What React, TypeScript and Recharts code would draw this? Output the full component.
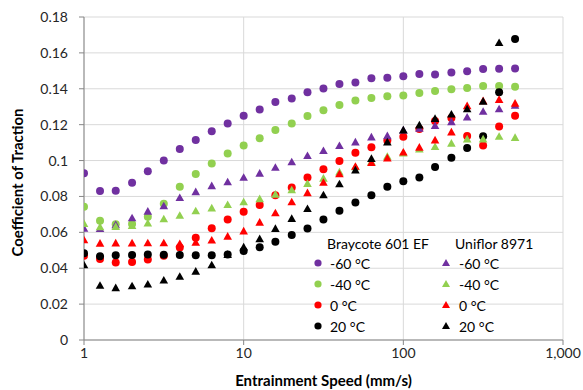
import {
  CartesianGrid,
  Scatter,
  ScatterChart,
  XAxis,
  YAxis,
} from 'recharts'

// entrainment speeds (mm/s), same for every run
const speeds = [
  1, 1.26, 1.58, 2, 2.51, 3.16, 3.98, 5.01, 6.31, 7.94, 10, 12.6, 15.8, 20,
  25.1, 31.6, 39.8, 50.1, 63.1, 79.4, 100, 126, 158, 200, 251, 316, 398, 501,
]

// Braycote 601 EF
const braycoteM60 = [
  0.0929, 0.083, 0.0832, 0.0876, 0.094, 0.1001, 0.1064, 0.1114, 0.1163, 0.1207,
  0.125, 0.1285, 0.1326, 0.1346, 0.138, 0.1402, 0.1426, 0.1435, 0.1458, 0.1461,
  0.147, 0.1482, 0.148, 0.1491, 0.1498, 0.151, 0.1511, 0.1513,
]
const braycoteM40 = [
  0.0742, 0.0665, 0.0645, 0.0646, 0.0687, 0.0759, 0.0854, 0.0925, 0.0984, 0.104,
  0.1084, 0.1125, 0.117, 0.1207, 0.1248, 0.1281, 0.1309, 0.1335, 0.1348, 0.1359,
  0.1363, 0.1376, 0.1387, 0.1398, 0.1404, 0.1415, 0.1415, 0.1411,
]
const braycote0 = [
  0.047, 0.0451, 0.0432, 0.0435, 0.0449, 0.047, 0.0516, 0.057, 0.0623, 0.0672,
  0.0715, 0.0753, 0.0807, 0.085, 0.0905, 0.0951, 0.0997, 0.1043, 0.1074, 0.1112,
  0.1132, 0.1176, 0.1221, 0.1237, 0.1137, 0.1084, 0.119, 0.1249,
]
const braycote20 = [
  0.0483, 0.0467, 0.0472, 0.0474, 0.0476, 0.0475, 0.0473, 0.0472, 0.0472, 0.0477,
  0.0496, 0.0517, 0.0547, 0.0585, 0.0622, 0.0672, 0.072, 0.0766, 0.0806, 0.0854,
  0.0884, 0.0906, 0.0964, 0.1016, 0.107, 0.1136, 0.1381, 0.1678,
]

// Uniflor 8971
const uniflorM60 = [
  0.062, 0.0618, 0.064, 0.0678, 0.0715, 0.0745, 0.0791, 0.0824, 0.0857, 0.0879,
  0.0904, 0.0927, 0.096, 0.099, 0.1025, 0.1053, 0.1081, 0.1101, 0.1129, 0.1136,
  0.1168, 0.1177, 0.1192, 0.1214, 0.124, 0.1272, 0.1286, 0.1305,
]
const uniflorM40 = [
  0.0647, 0.0628, 0.063, 0.0635, 0.0649, 0.0673, 0.0692, 0.0717, 0.0733, 0.0752,
  0.0767, 0.0785, 0.081, 0.0834, 0.087, 0.0899, 0.0934, 0.0962, 0.0991, 0.1021,
  0.104, 0.1062, 0.1075, 0.1094, 0.1118, 0.1118, 0.1132, 0.1126,
]
const uniflor0 = [
  0.0556, 0.0537, 0.0538, 0.0538, 0.0539, 0.0539, 0.0535, 0.0542, 0.0554, 0.0576,
  0.0605, 0.0654, 0.0706, 0.0767, 0.0818, 0.0876, 0.0923, 0.0965, 0.0986, 0.1012,
  0.1045, 0.1072, 0.1112, 0.1157, 0.1303, 0.1331, 0.1338, 0.1317,
]
const uniflor20 = [
  0.0416, 0.0302, 0.0289, 0.0299, 0.0309, 0.0331, 0.0352, 0.0381, 0.0416, 0.0474,
  0.0516, 0.0562, 0.0619, 0.0675, 0.073, 0.0806, 0.0868, 0.0945, 0.1009, 0.1101,
  0.1168, 0.1196, 0.1232, 0.1256, 0.1286, 0.1328, 0.1655, null,
]

const tempLabels = ['-60 °C', '-40 °C', '0 °C', '20 °C']
const tempColors = ['#7030A0', '#92D050', '#FF0000', '#000000']
const xTicks = [1, 10, 100, 1000]
const yTicks = [0, 0.02, 0.04, 0.06, 0.08, 0.1, 0.12, 0.14, 0.16, 0.18]

const FONT = 'Lato, "Liberation Sans", Arial, sans-serif'

const toPoints = (values: (number | null)[]) =>
  speeds
    .map((x, i) => ({ x, y: values[i] }))
    .filter((d) => d.y !== null)

const circleShape = (color: string) => (props: any) => (
  <circle cx={props.cx} cy={props.cy} r={4} fill={color} />
)

const triangleShape = (color: string) => (props: any) => {
  const { cx, cy } = props
  return (
    <polygon
      points={`${cx},${cy - 4.6} ${cx - 4.3},${cy + 3} ${cx + 4.3},${cy + 3}`}
      fill={color}
    />
  )
}

const braycote = [braycoteM60, braycoteM40, braycote0, braycote20]
const uniflor = [uniflorM60, uniflorM40, uniflor0, uniflor20]

const Legend = () => (
  <svg
    width={583}
    height={390}
    style={{ position: 'absolute', left: 0, top: 0, pointerEvents: 'none' }}
  >
    <g fontFamily={FONT} fontSize={14} fill="#000">
      <text x={327} y={243} dominantBaseline="central">
        Braycote 601 EF
      </text>
      <text x={455} y={243} dominantBaseline="central">
        Uniflor 8971
      </text>
      {tempLabels.map((label, i) => {
        const y = 263 + i * 21
        const c = tempColors[i]
        return (
          <g key={label}>
            <circle cx={318} cy={y} r={3.6} fill={c} />
            <text x={330} y={y} dominantBaseline="central">
              {label}
            </text>
            <polygon
              points={`${446},${y - 4} ${442},${y + 3} ${450},${y + 3}`}
              fill={c}
            />
            <text x={459} y={y} dominantBaseline="central">
              {label}
            </text>
          </g>
        )
      })}
    </g>
  </svg>
)

export default function App() {
  return (
    <div
      style={{
        position: 'absolute',
        left: 0,
        top: 0,
        width: 583,
        height: 390,
        background: '#fff',
      }}
    >
      <ScatterChart
        width={583}
        height={390}
        margin={{ top: 17, right: 20, bottom: 0, left: 0 }}
      >
        <CartesianGrid stroke="#d9d9d9" />
        <XAxis
          type="number"
          dataKey="x"
          scale="log"
          domain={[1, 1000]}
          ticks={xTicks}
          allowDataOverflow
          height={50}
          stroke="#868686"
          tickSize={5}
          tickMargin={3}
          tick={{ fill: '#262626', fontSize: 14, fontFamily: FONT }}
          tickFormatter={(v: number) => v.toLocaleString('en-US')}
          label={{
            value: 'Entrainment Speed (mm/s)',
            position: 'insideBottom',
            offset: 4,
            style: { fontFamily: FONT, fontSize: 15, fontWeight: 700, fill: '#000' },
          }}
        />
        <YAxis
          type="number"
          dataKey="y"
          domain={[0, 0.18]}
          ticks={yTicks}
          width={84}
          stroke="#868686"
          tickSize={5}
          tickMargin={11}
          tick={{ fill: '#262626', fontSize: 14, fontFamily: FONT }}
          tickFormatter={(v: number) => String(Number(v.toFixed(2)))}
          label={{
            content: (p: any) => {
              const cy = p.viewBox.y + p.viewBox.height / 2 + 4
              return (
                <text
                  x={17}
                  y={cy}
                  transform={`rotate(-90 17 ${cy})`}
                  textAnchor="middle"
                  dominantBaseline="central"
                  fontFamily={FONT}
                  fontSize={15}
                  fontWeight={700}
                  fill="#000"
                >
                  Coefficient of Traction
                </text>
              )
            },
          }}
        />
        {braycote.map((vals, i) => (
          <Scatter
            key={`b${i}`}
            name={`Braycote 601 EF ${tempLabels[i]}`}
            data={toPoints(vals)}
            shape={circleShape(tempColors[i])}
            isAnimationActive={false}
          />
        ))}
        {uniflor.map((vals, i) => (
          <Scatter
            key={`u${i}`}
            name={`Uniflor 8971 ${tempLabels[i]}`}
            data={toPoints(vals)}
            shape={triangleShape(tempColors[i])}
            isAnimationActive={false}
          />
        ))}
      </ScatterChart>
      <Legend />
    </div>
  )
}
